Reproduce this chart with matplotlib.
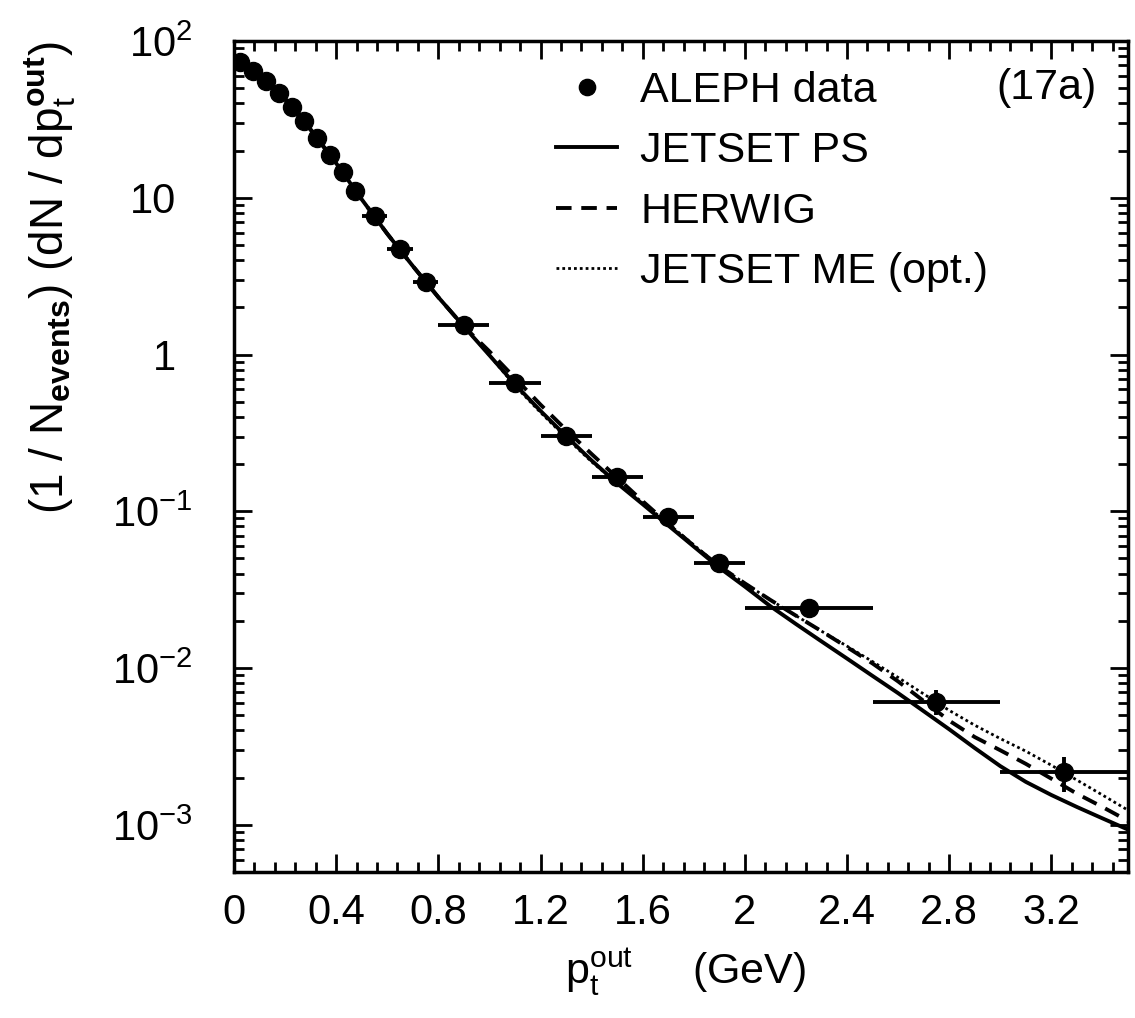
import numpy as np
import matplotlib
matplotlib.use("Agg")
import matplotlib.pyplot as plt
from matplotlib.ticker import FixedLocator, FixedFormatter, MultipleLocator, LogLocator, NullFormatter

plt.rcParams['font.family'] = ['Liberation Sans', 'DejaVu Sans']
plt.rcParams['mathtext.fontset'] = 'custom'
plt.rcParams['mathtext.rm'] = 'Liberation Sans'
plt.rcParams['mathtext.it'] = 'Liberation Sans'
plt.rcParams['mathtext.bf'] = 'Liberation Sans:bold'

# ALEPH data points (bin centre, half width, value, error)
data_x = [0.025, 0.075, 0.125, 0.175, 0.225, 0.275, 0.325, 0.375, 0.425, 0.475,
          0.55, 0.65, 0.75, 0.9, 1.1, 1.3, 1.5, 1.7, 1.9, 2.25, 2.75, 3.25]
data_xhalf = [0.025] * 10 + [0.05] * 3 + [0.1] * 6 + [0.25] * 3
data_y = [73.8, 64.6, 55.6, 46.8, 38.0, 30.8, 23.9, 18.7, 14.6, 11.1,
          7.7, 4.72, 2.90, 1.54, 0.662, 0.302, 0.165, 0.0917, 0.0469, 0.0240, 0.0061, 0.00216]
data_yerr = [0] * 19 + [0.0010, 0.0011, 0.00053]

# Monte Carlo curves
curve_x = [0.0, 0.1, 0.2, 0.3, 0.4, 0.5, 0.6, 0.7, 0.8, 0.9, 1.0, 1.1, 1.2, 1.3, 1.4, 1.5, 1.6, 1.7,
           1.8, 1.9, 2.0, 2.1, 2.2, 2.3, 2.4, 2.5, 2.6, 2.7, 2.8, 2.9, 3.0, 3.1, 3.2, 3.3, 3.4, 3.5]
jetset_ps = [79.4, 61.0, 42.7, 27.2, 16.6, 9.77, 5.89, 3.67, 2.32, 1.51, 0.989, 0.646, 0.437, 0.302,
             0.211, 0.151, 0.111, 0.0813, 0.0596, 0.0437, 0.0331, 0.0248, 0.0191, 0.0148, 0.0115,
             0.00891, 0.00692, 0.00531, 0.00407, 0.00309, 0.00237, 0.00188, 0.00155, 0.00130,
             0.00110, 0.000933]
herwig = [79.4, 61.0, 42.7, 27.2, 16.6, 9.77, 5.89, 3.67, 2.32, 1.51, 1.047, 0.708, 0.479, 0.331,
          0.232, 0.164, 0.116, 0.0832, 0.0603, 0.0447, 0.0347, 0.0272, 0.0216, 0.0172, 0.0136,
          0.0107, 0.00822, 0.00617, 0.00462, 0.00363, 0.00299, 0.00245, 0.00197, 0.00158,
          0.00130, 0.00106]
jetset_me = [79.4, 61.0, 42.7, 27.2, 16.6, 9.77, 5.89, 3.67, 2.32, 1.51, 0.989, 0.631, 0.427, 0.295,
             0.207, 0.151, 0.114, 0.0832, 0.0610, 0.0447, 0.0347, 0.0272, 0.0216, 0.0172, 0.0138,
             0.0110, 0.00871, 0.00684, 0.00537, 0.00432, 0.00355, 0.00295, 0.00240, 0.00193,
             0.00155, 0.00124]

xticks = [0, 0.4, 0.8, 1.2, 1.6, 2.0, 2.4, 2.8, 3.2]
xtick_labels = ['0', '0.4', '0.8', '1.2', '1.6', '2', '2.4', '2.8', '3.2']
yticks = [1e-3, 1e-2, 1e-1, 1, 10, 100]
ytick_labels = ['$10^{-3}$', '$10^{-2}$', '$10^{-1}$', '1', '10', '$10^{2}$']

fig = plt.figure(figsize=(11.35, 10.18), dpi=100)
ax = fig.add_axes([0.2062, 0.1434, 0.7876, 0.8163])

l_ps, = ax.plot(curve_x, jetset_ps, color='black', lw=2.8, ls='-', label='JETSET PS')
l_hw, = ax.plot(curve_x, herwig, color='black', lw=2.8, ls=(0, (4, 2.5)), label='HERWIG')
l_me, = ax.plot(curve_x, jetset_me, color='black', lw=2.0, ls=(0, (1, 1.1)), label='JETSET ME (opt.)')
ax.errorbar(data_x, data_y, xerr=data_xhalf, yerr=data_yerr, fmt='none',
            ecolor='black', elinewidth=2.8, capsize=0)
l_data, = ax.plot(data_x, data_y, 'o', color='black', ms=13, label='ALEPH data')

ax.set_yscale('log')
ax.set_xlim(0, 3.5)
ax.set_ylim(5e-4, 100)

ax.xaxis.set_major_locator(FixedLocator(xticks))
ax.xaxis.set_major_formatter(FixedFormatter(xtick_labels))
ax.xaxis.set_minor_locator(MultipleLocator(0.08))
ax.yaxis.set_major_locator(FixedLocator(yticks))
ax.yaxis.set_major_formatter(FixedFormatter(ytick_labels))
ax.yaxis.set_minor_locator(LogLocator(base=10, subs=np.arange(2, 10), numticks=20))
ax.yaxis.set_minor_formatter(NullFormatter())

ax.tick_params(which='both', direction='in', top=True, right=True, width=2.0, color='black')
ax.tick_params(which='major', length=13)
ax.tick_params(which='minor', length=7)
ax.tick_params(axis='x', which='major', labelsize=30, pad=15)
ax.tick_params(axis='y', which='major', labelsize=30, pad=30)
for s in ax.spines.values():
    s.set_linewidth(2.5)

# plain labels sit a bit further left in the original
for lbl in ax.get_yticklabels():
    if lbl.get_text() in ('1', '10'):
        lbl.set_x(-0.018)

ax.set_xlabel(r'p$_t^{\mathrm{out}}$     (GeV)', fontsize=31)
ax.xaxis.set_label_coords(0.505, -0.09)
ax.set_ylabel(r'(1 / N$_{\mathbf{events}}$) (dN / dp$_t^{\mathbf{out}}$)', fontsize=33,
              labelpad=24, loc='top')

ax.legend(handles=[l_data, l_ps, l_hw, l_me], loc='upper left', bbox_to_anchor=(0.327, 1.0),
          frameon=False, fontsize=31, handlelength=1.4, handletextpad=0.55, labelspacing=0.47,
          borderaxespad=0.3, numpoints=1, markerscale=0.9)
ax.text(0.965, 0.943, '(17a)', transform=ax.transAxes, fontsize=31, ha='right', va='center')

fig.savefig('out.png', dpi=100)
